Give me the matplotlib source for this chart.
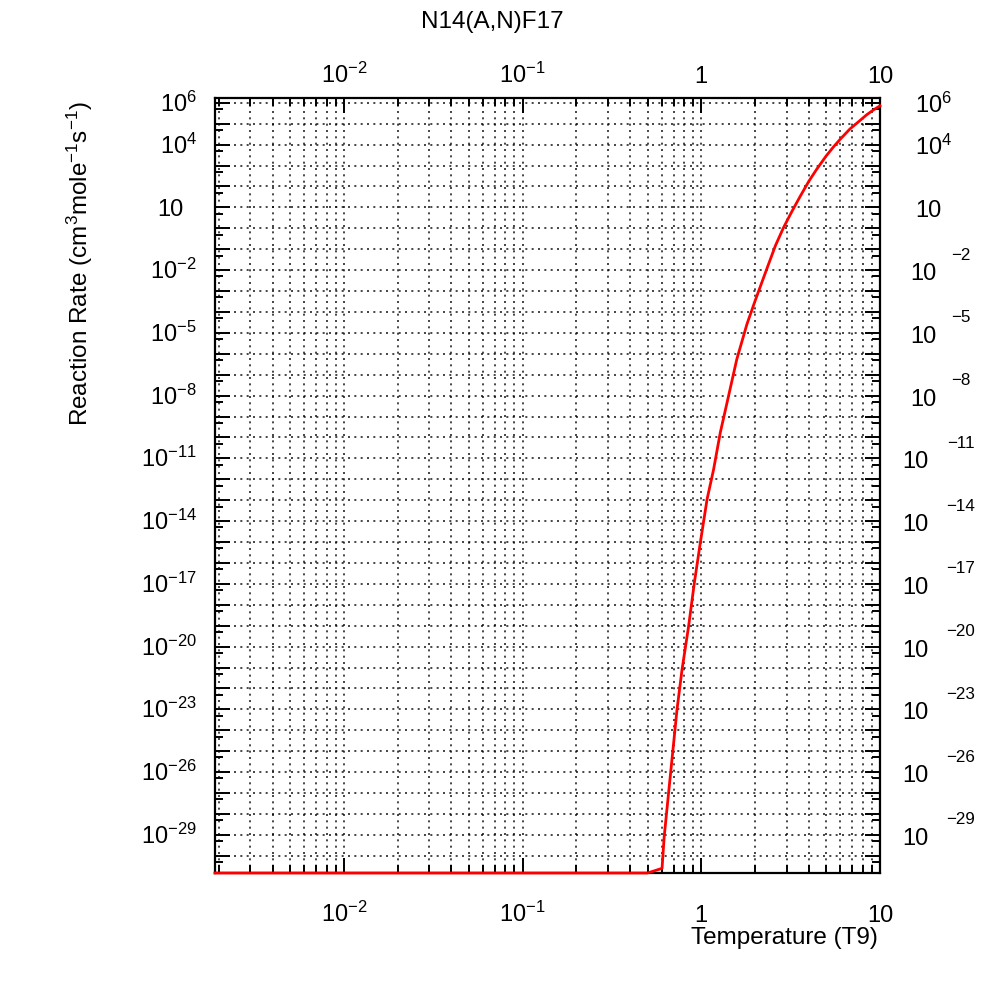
import numpy as np
import matplotlib
matplotlib.use("Agg")
import matplotlib.pyplot as plt
from matplotlib import transforms
from matplotlib.ticker import FixedLocator, NullFormatter

plt.rcParams['font.family'] = ['Liberation Sans', 'DejaVu Sans']
plt.rcParams['mathtext.fontset'] = 'custom'
plt.rcParams['mathtext.rm'] = 'Liberation Sans'
plt.rcParams['mathtext.it'] = 'Liberation Sans'
plt.rcParams['mathtext.bf'] = 'Liberation Sans'

# ---- data ----
title = "N14(A,N)F17"
xlabel = "Temperature (T9)"
ylabel = r"Reaction Rate (cm$^3$mole$^{-1}$s$^{-1}$)"

t9 = [0.0019, 0.5, 0.603, 0.62, 0.656, 0.691, 0.731, 0.78, 0.849, 0.914,
      0.987, 1.077, 1.172, 1.277, 1.42, 1.58, 1.80, 2.0, 2.33, 2.6,
      2.88, 3.2, 3.57, 4.0, 4.43, 5.0, 5.49, 6.0, 6.8, 7.5,
      8.43, 9.2, 10.0]
rate = [1.5e-31, 1.5e-31, 2.5e-31, 8.3e-30, 1.0e-27, 8.1e-26, 9.5e-24, 7.9e-22, 9.3e-20, 1.1e-17,
        9.1e-16, 1.1e-13, 3.0e-12, 1.7e-10, 9.5e-9, 5.5e-7, 2.6e-5, 3.4e-4, 1.2e-2, 1.5e-1,
        1.05, 6.0, 33.0, 1.8e2, 6.8e2, 2.9e3, 7.8e3, 1.85e4, 5.7e4, 1.15e5,
        2.7e5, 4.6e5, 7.2e5]

x_label_exps = [-2, -1, 0, 1]
x_label_texts = [r"$10^{-2}$", r"$10^{-1}$", "1", "10"]
y_label_exps = [6, 4, 1, -2, -5, -8, -11, -14, -17, -20, -23, -26, -29]

xlim = (0.0019, 10.0)
ylim = (1.5e-31, 1.7e6)

W, H = 988, 987
fig = plt.figure(figsize=(W / 100, H / 100), dpi=100)
L, R, T, B = 215, 880, 99, 874
ax = fig.add_axes([L / W, 1 - B / H, (R - L) / W, (B - T) / H])
ax.set_xscale('log')
ax.set_yscale('log')
ax.set_xlim(*xlim)
ax.set_ylim(*ylim)

# ticks
ax.xaxis.set_major_locator(FixedLocator([10.0 ** e for e in range(-3, 2)]))
ax.xaxis.set_minor_locator(FixedLocator([m * 10.0 ** e for e in range(-3, 1) for m in range(2, 10)]))
ax.yaxis.set_major_locator(FixedLocator([10.0 ** e for e in range(-31, 7)]))
ax.yaxis.set_minor_locator(FixedLocator([5 * 10.0 ** e for e in range(-32, 7)]))
for a in (ax.xaxis, ax.yaxis):
    a.set_major_formatter(NullFormatter())
    a.set_minor_formatter(NullFormatter())
ax.tick_params(which='both', direction='in', top=True, right=True, width=1.4, color='black')
ax.tick_params(which='major', length=11)
ax.tick_params(which='minor', length=5.5)
for s in ax.spines.values():
    s.set_linewidth(1.6)

# grid
gstyle = dict(color='black', ls=(0, (1.2, 2.6)), lw=1.2, alpha=0.85)
ax.grid(True, which='major', axis='both', **gstyle)
ax.grid(True, which='minor', axis='x', **gstyle)
ax.grid(False, which='minor', axis='y')
ax.set_axisbelow(True)

# curve
ax.plot(t9, rate, color='#ff0000', lw=2.0, clip_on=False, zorder=5)

fs = 17
fl = 17.5
# x tick labels (bottom and top)
tb = transforms.blended_transform_factory(ax.transData, fig.transFigure)
for e, lab in zip(x_label_exps, x_label_texts):
    ax.text(10.0 ** e, 1 - 922 / H, lab, transform=tb, ha='center', va='baseline', fontsize=fs)
    ax.text(10.0 ** e, 1 - 83 / H, lab, transform=tb, ha='center', va='baseline', fontsize=fs)

# y tick labels
ty = transforms.blended_transform_factory(fig.transFigure, ax.transData)
ty_base = transforms.offset_copy(ty, fig=fig, y=-8, units='dots')
ty_base_r = transforms.offset_copy(ty, fig=fig, y=-9, units='dots')
ty_exp_r = transforms.offset_copy(ty, fig=fig, y=16, units='dots')
for e in y_label_exps:
    yv = 10.0 ** e
    if e == 1:
        ax.text(183 / W, yv, "10", transform=ty_base, ha='right', va='baseline', fontsize=fs)
        ax.text(915 / W, yv, "10", transform=ty_base_r, ha='left', va='baseline', fontsize=fs)
    elif e > 0:
        ax.text(197 / W, yv, r"$10^{%d}$" % e, transform=ty_base, ha='right', va='baseline', fontsize=fs)
        ax.text(915 / W, yv, r"$10^{%d}$" % e, transform=ty_base_r, ha='left', va='baseline', fontsize=fs)
    else:
        ax.text(197 / W, yv, r"$10^{%d}$" % e, transform=ty_base, ha='right', va='baseline', fontsize=fs)
        xr = 936 if e > -10 else 928
        ax.text(xr / W, yv, "10", transform=ty_base_r, ha='right', va='baseline', fontsize=fs)
        ax.text(961 / W, yv, "\u2212%d" % (-e), transform=ty_exp_r, ha='center', va='center', fontsize=fs * 0.72)

# titles / axis labels
fig.text(492 / W, 1 - 22 / H, title, ha='center', va='center', fontsize=fl)
fig.text(878 / W, 1 - 938 / H, xlabel, ha='right', va='center', fontsize=fl)
fig.text(80 / W, 1 - 264 / H, ylabel, ha='center', va='center', rotation=90, fontsize=fl)

fig.savefig("out.png", dpi=100)
